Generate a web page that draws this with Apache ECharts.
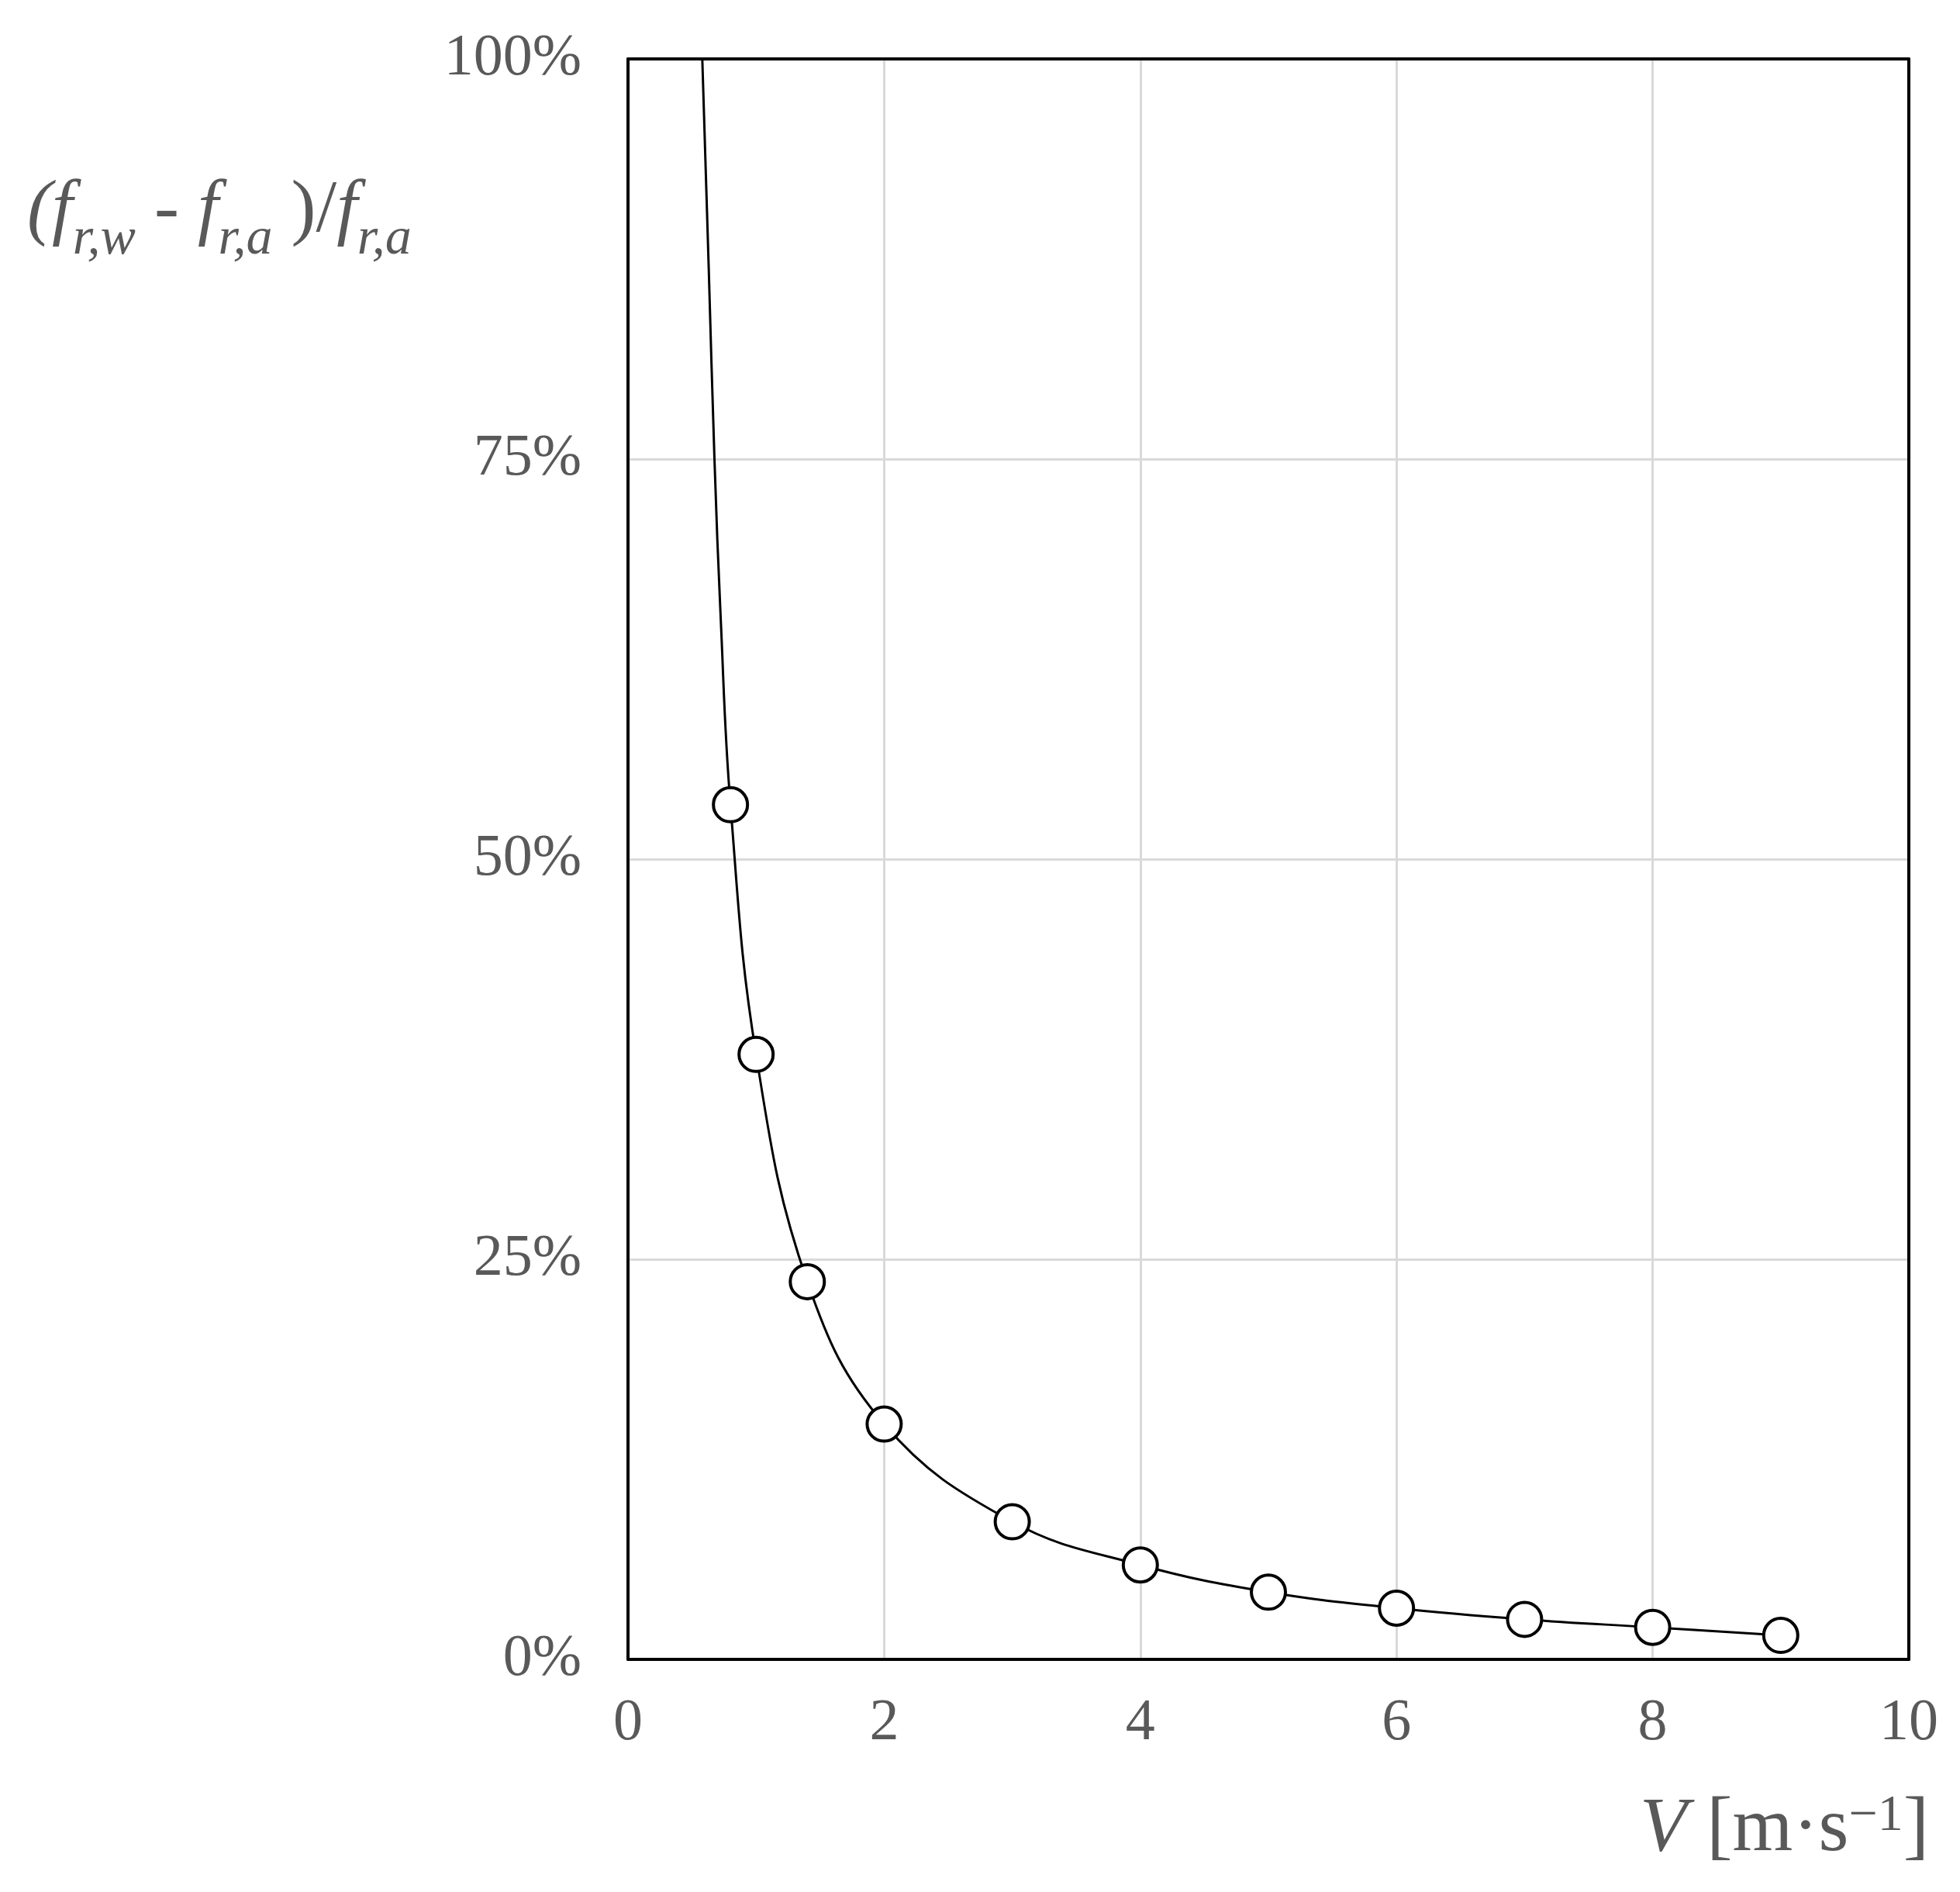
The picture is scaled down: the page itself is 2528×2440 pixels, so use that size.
<!DOCTYPE html>
<html><head><meta charset="utf-8">
<script src="https://cdn.jsdelivr.net/npm/echarts@6/dist/echarts.min.js"></script>
<style>html,body{margin:0;padding:0;background:#fff}#c{width:2528px;height:2440px}</style>
</head><body><div id="c"></div>
<script>
const pointsV = [0.8, 1, 1.4, 2, 3, 4, 5, 6, 7, 8, 9];
const pointsY = [53.4, 37.8, 23.6, 14.7, 8.6, 5.9, 4.2, 3.2, 2.5, 2.0, 1.5];
const curveV = [0.58, 0.63, 0.675, 0.724, 0.8, 1, 1.4, 2, 3, 4, 5, 6, 7, 8, 9];
const curveY = [100, 87, 75, 65, 53.4, 37.8, 23.6, 14.7, 8.6, 5.9, 4.2, 3.2, 2.5, 2.0, 1.5];
const yTicks = [0, 25, 50, 75, 100];
const xTicks = [0, 2, 4, 6, 8, 10];
const font = 'Liberation Serif';
const grey = '#595959';
const frame = {show: true, onZero: false, lineStyle: {color: '#000', width: 4}};
const chart = echarts.init(document.getElementById('c'));
chart.setOption({
  animation: false,
  grid: {left: 810, right: 66, top: 76, bottom: 300},
  xAxis: [{type: 'value', min: 0, max: 10, interval: 2,
    axisLine: frame, axisTick: {show: false},
    splitLine: {show: true, lineStyle: {color: '#d9d9d9', width: 3}},
    axisLabel: {color: grey, fontFamily: font, fontSize: 76, margin: 45,
      formatter: v => xTicks.includes(v) ? String(v) : ''}},
    {type: 'value', position: 'top', min: 0, max: 10, axisLine: frame, axisTick: {show: false},
     axisLabel: {show: false}, splitLine: {show: false}}],
  yAxis: [{type: 'value', min: 0, max: 100, interval: 25,
    axisLine: frame, axisTick: {show: false},
    splitLine: {show: true, lineStyle: {color: '#d9d9d9', width: 3}},
    axisLabel: {color: grey, fontFamily: font, fontSize: 76, margin: 60,
      formatter: v => yTicks.includes(v) ? v + '%' : ''}},
    {type: 'value', position: 'right', min: 0, max: 100, axisLine: frame, axisTick: {show: false},
     axisLabel: {show: false}, splitLine: {show: false}}],
  series: [
    {type: 'line', data: curveV.map((v, i) => [v, curveY[i]]), smooth: 0.4, showSymbol: false,
     lineStyle: {color: '#000', width: 3}, z: 2},
    {type: 'scatter', data: pointsV.map((v, i) => [v, pointsY[i]]), symbol: 'circle', symbolSize: 44,
     itemStyle: {color: '#fff', borderColor: '#000', borderWidth: 4, opacity: 1}, z: 3}
  ],
  graphic: [
    {type: 'text', left: 35, top: 225, style: {
      text: '{i|(f}{s|r,w}{n| - }{i|f}{s|r,a}{n| )/}{i|f}{s|r,a}',
      rich: {
        i: {fontFamily: font, fontStyle: 'italic', fontSize: 96, fill: grey, verticalAlign: 'bottom'},
        n: {fontFamily: font, fontSize: 96, fill: grey, verticalAlign: 'bottom'},
        s: {fontFamily: font, fontStyle: 'italic', fontSize: 68, fill: grey, verticalAlign: 'bottom', padding: [0, 0, -22, 0]}
      }}},
    {type: 'text', right: 40, top: 2310, style: {
      text: '{i|V}{n| [m·s}{u|−1}{n|]}',
      rich: {
        i: {fontFamily: font, fontStyle: 'italic', fontSize: 100, fill: grey, verticalAlign: 'bottom'},
        n: {fontFamily: font, fontSize: 100, fill: grey, verticalAlign: 'bottom'},
        u: {fontFamily: font, fontSize: 66, fill: grey, verticalAlign: 'top'}
      }}}
  ]
});
</script></body></html>
